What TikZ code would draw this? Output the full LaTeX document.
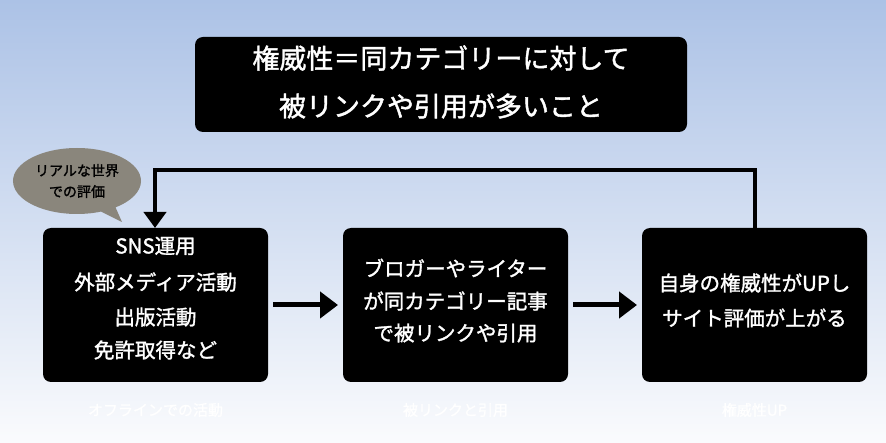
\documentclass[tikz,border=0pt]{standalone}
\usepackage{fontspec}
\setmainfont{Noto Sans CJK JP}[FakeBold=1.5,BoldFont=Noto Sans CJK JP]
\usetikzlibrary{shapes.callouts,arrows.meta}
\definecolor{bgtop}{RGB}{172,194,230}
\definecolor{bgbot}{RGB}{250,251,253}
\definecolor{callg}{RGB}{138,134,124}
\begin{document}
\begin{tikzpicture}[x=1pt,y=-1pt,
  box/.style={fill=black,rounded corners=8pt,draw=none},
  wt/.style={text=white,font=\fontsize{20.5}{24}\selectfont\bfseries,align=center},
  captxt/.style={text=white,font=\fontsize{15}{18}\selectfont},
  arr/.style={line width=5pt,-{Triangle[length=18pt,width=26pt]}},
  fb/.style={line width=4.5pt,-{Triangle[length=16pt,width=22pt]}}]
\shade[top color=bgtop,bottom color=bgbot] (0,0) rectangle (886,443);
\useasboundingbox (0,0) rectangle (886,443);
% title
\draw[box] (195,37) rectangle (687,132);
\node[wt,font=\fontsize{27}{32}\selectfont\bfseries] (t1) at (441,58) {権威性＝同カテゴリーに対して};
\node[wt,font=\fontsize{27}{32}\selectfont\bfseries] (t2) at (441,106) {被リンクや引用が多いこと};
% boxes
\draw[box] (43,228) rectangle (268,382);
\draw[box] (343,228) rectangle (568,382);
\draw[box] (642,228) rectangle (867,382);
\node[wt] (l1) at (155.5,246) {SNS運用};
\node[wt] (l2) at (155.5,282) {外部メディア活動};
\node[wt] (l3) at (155.5,317) {出版活動};
\node[wt] (l4) at (155.5,350) {免許取得など};
\node[wt] (m1) at (455.5,268) {ブロガーやライター};
\node[wt] (m2) at (455.5,301) {が同カテゴリー記事};
\node[wt] (m3) at (455.5,333) {で被リンクや引用};
\node[wt] (r1) at (754.5,283) {自身の権威性がUPし};
\node[wt] (r2) at (754.5,318) {サイト評価が上がる};
% arrows
\coordinate (a1s) at (273,305); \coordinate (a1e) at (338,305);
\coordinate (a2s) at (573,305); \coordinate (a2e) at (637,305);
\draw[arr] (a1s) -- (a1e);
\draw[arr] (a2s) -- (a2e);
\coordinate (fbs) at (755,228); \coordinate (fbe) at (155,228);
\draw[fb] (fbs) -- (755,170) -- (155,170) -- (fbe);
% captions
\node[captxt] (c1) at (155.5,410) {オフラインでの活動};
\node[captxt] (c2) at (455.5,410) {被リンクと引用};
\node[captxt] (c3) at (754.5,410) {権威性UP};
% callout
\node[ellipse callout,fill=callg,minimum width=122pt,minimum height=66pt,
  callout absolute pointer={(122,222)},align=center,
  font=\fontsize{14}{21}\selectfont] (co) at (77,181) {リアルな世界\\での評価};
\end{tikzpicture}
\end{document}
